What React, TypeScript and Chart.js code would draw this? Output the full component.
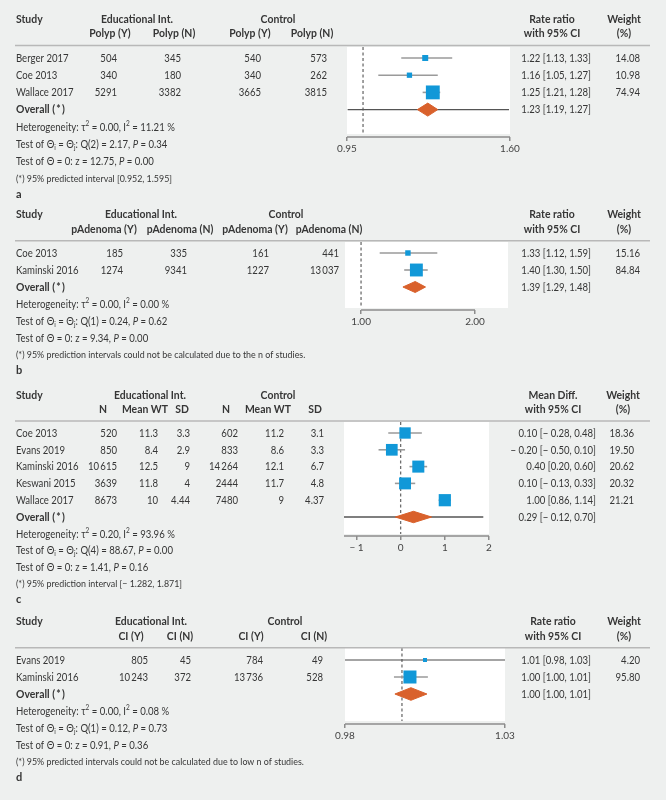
import React, { useEffect, useRef } from 'react';
import { Chart, registerables } from 'chart.js';

Chart.register(...registerables);

const FONT = 'Lato, "Liberation Sans", "DejaVu Sans", sans-serif';
const TEXT = '#363636';
const BLUE = '#1198d8';
const ORANGE = '#d9612c';
const BG = '#eef0ef';

// ---------------- Panel a ----------------
const aStudies = ['Berger 2017', 'Coe 2013', 'Wallace 2017'];
const aGroupHeaders = ['Educational Int.', 'Control'];
const aSubHeaders = ['Polyp (Y)', 'Polyp (N)', 'Polyp (Y)', 'Polyp (N)'];
const aEduPolypY = [504, 340, 5291];
const aEduPolypN = [345, 180, 3382];
const aCtlPolypY = [540, 340, 3665];
const aCtlPolypN = [573, 262, 3815];
const aEst = [1.22, 1.16, 1.25];
const aLow = [1.13, 1.05, 1.21];
const aHigh = [1.33, 1.27, 1.28];
const aWeight = [14.08, 10.98, 74.94];
const aCiText = ['1.22 [1.13, 1.33]', '1.16 [1.05, 1.27]', '1.25 [1.21, 1.28]'];
const aOverall = [1.23, 1.19, 1.27];
const aOverallText = '1.23 [1.19, 1.27]';
const aPredInt = [0.952, 1.595];
const aTickValues = [0.95, 1.6];
const aTickLabels = ['0.95', '1.60'];
const aAxisRange = [0.95, 1.6];
const aStats = [
  'Heterogeneity: τ^{2} = 0.00, I^{2} = 11.21 %',
  'Test of Θ_{i} = Θ_{j}: Q(2) = 2.17, *P* = 0.34',
  'Test of Θ = 0: z = 12.75, *P* = 0.00',
];
const aFootnote = '(*) 95% predicted interval [0.952, 1.595]';

// ---------------- Panel b ----------------
const bStudies = ['Coe 2013', 'Kaminski 2016'];
const bGroupHeaders = ['Educational Int.', 'Control'];
const bSubHeaders = ['pAdenoma (Y)', 'pAdenoma (N)', 'pAdenoma (Y)', 'pAdenoma (N)'];
const bEduY = [185, 1274];
const bEduN = [335, 9341];
const bCtlY = [161, 1227];
const bCtlN = [441, 13037];
const bEst = [1.33, 1.40];
const bLow = [1.12, 1.30];
const bHigh = [1.59, 1.50];
const bWeight = [15.16, 84.84];
const bCiText = ['1.33 [1.12, 1.59]', '1.40 [1.30, 1.50]'];
const bOverall = [1.39, 1.29, 1.48];
const bOverallText = '1.39 [1.29, 1.48]';
const bTickValues = [1, 2];
const bTickLabels = ['1.00', '2.00'];
const bAxisRange = [1, 2];
const bStats = [
  'Heterogeneity: τ^{2} = 0.00, I^{2} = 0.00 %',
  'Test of Θ_{i} = Θ_{j}: Q(1) = 0.24, *P* = 0.62',
  'Test of Θ = 0: z = 9.34, *P* = 0.00',
];
const bFootnote = '(*) 95% prediction intervals could not be calculated due to the n of studies.';

// ---------------- Panel c ----------------
const cStudies = ['Coe 2013', 'Evans 2019', 'Kaminski 2016', 'Keswani 2015', 'Wallace 2017'];
const cGroupHeaders = ['Educational Int.', 'Control'];
const cSubHeaders = ['N', 'Mean WT', 'SD', 'N', 'Mean WT', 'SD'];
const cEduN = [520, 850, 10615, 3639, 8673];
const cEduMean = [11.3, 8.4, 12.5, 11.8, 10];
const cEduSD = [3.3, 2.9, 9, 4, 4.44];
const cCtlN = [602, 833, 14264, 2444, 7480];
const cCtlMean = [11.2, 8.6, 12.1, 11.7, 9];
const cCtlSD = [3.1, 3.3, 6.7, 4.8, 4.37];
const cEst = [0.10, -0.20, 0.40, 0.10, 1.00];
const cLow = [-0.28, -0.50, 0.20, -0.13, 0.86];
const cHigh = [0.48, 0.10, 0.60, 0.33, 1.14];
const cWeight = [18.36, 19.50, 20.62, 20.32, 21.21];
const cCiText = [
  '0.10 [− 0.28, 0.48]',
  '− 0.20 [− 0.50, 0.10]',
  '0.40 [0.20, 0.60]',
  '0.10 [− 0.13, 0.33]',
  '1.00 [0.86, 1.14]',
];
const cOverall = [0.29, -0.12, 0.70];
const cOverallText = '0.29 [− 0.12, 0.70]';
const cPredInt = [-1.282, 1.871];
const cTickValues = [-1, 0, 1, 2];
const cTickLabels = ['− 1', '0', '1', '2'];
const cAxisRange = [-1.282, 2];
const cStats = [
  'Heterogeneity: τ^{2} = 0.20, I^{2} = 93.96 %',
  'Test of Θ_{i} = Θ_{j}: Q(4) = 88.67, *P* = 0.00',
  'Test of Θ = 0: z = 1.41, *P* = 0.16',
];
const cFootnote = '(*) 95% prediction interval [− 1.282, 1.871]';

// ---------------- Panel d ----------------
const dStudies = ['Evans 2019', 'Kaminski 2016'];
const dGroupHeaders = ['Educational Int.', 'Control'];
const dSubHeaders = ['CI (Y)', 'CI (N)', 'CI (Y)', 'CI (N)'];
const dEduY = [805, 10243];
const dEduN = [45, 372];
const dCtlY = [784, 13736];
const dCtlN = [49, 528];
const dEst = [1.005, 1.0003];
const dLow = [0.98, 0.9953];
const dHigh = [1.03, 1.0059];
const dWeight = [4.2, 95.8];
const dCiText = ['1.01 [0.98, 1.03]', '1.00 [1.00, 1.01]'];
const dOverall = [1.0006, 0.9956, 1.0056];
const dOverallText = '1.00 [1.00, 1.01]';
const dRefLine = 0.9978;
const dTickValues = [0.98, 1.03];
const dTickLabels = ['0.98', '1.03'];
const dAxisRange = [0.98, 1.03];
const dStats = [
  'Heterogeneity: τ^{2} = 0.00, I^{2} = 0.08 %',
  'Test of Θ_{i} = Θ_{j}: Q(1) = 0.12, *P* = 0.73',
  'Test of Θ = 0: z = 0.91, *P* = 0.36',
];
const dFootnote = '(*) 95% predicted intervals could not be calculated due to low n of studies.';

type PanelDef = {
  canvasTop: number; canvasH: number; row0: number; rowH: number;
  boxTop: number; boxBottom: number; axisY: number; boxLeft: number; boxRight: number;
  xType: 'linear' | 'logarithmic'; xMin: number; xMax: number;
  tickVals: number[]; tickLabels: string[]; axisRange: number[]; nullV: number;
  studies: string[]; cols: number[][];
  groupHeaders: string[]; groupX: number[]; subHeaders: string[]; subX: number[]; colRight: number[];
  est: number[]; lo: number[]; hi: number[]; weights: number[]; ciText: string[];
  overall: number[]; overallText: string; pi?: number[];
  statHead: string[]; statX: number; ciRight: number; wRight: number; wHeadX: number;
  stats: string[]; footnote: string; letter: string; sizeK: number; diamondHalf: number;
};

const PANELS: PanelDef[] = [
  {
    canvasTop: 0, canvasH: 198, row0: 58, rowH: 17.2, boxTop: 47, boxBottom: 134, axisY: 137, boxLeft: 347, boxRight: 510,
    xType: 'logarithmic', xMin: 0.95, xMax: 1.6, tickVals: aTickValues, tickLabels: aTickLabels, axisRange: aAxisRange, nullV: 1,
    studies: aStudies, cols: [aEduPolypY, aEduPolypN, aCtlPolypY, aCtlPolypN],
    groupHeaders: aGroupHeaders, groupX: [137, 278], subHeaders: aSubHeaders, subX: [110, 174, 250, 312], colRight: [117, 181, 261, 327],
    est: aEst, lo: aLow, hi: aHigh, weights: aWeight, ciText: aCiText, overall: aOverall, overallText: aOverallText, pi: aPredInt,
    statHead: ['Rate ratio', 'with 95% CI'], statX: 552, ciRight: 591, wRight: 640, wHeadX: 624,
    stats: aStats, footnote: aFootnote, letter: 'a', sizeK: 1.6, diamondHalf: 6.5,
  },
  {
    canvasTop: 198, canvasH: 190, row0: 253, rowH: 17, boxTop: 242, boxBottom: 308, axisY: 310, boxLeft: 345, boxRight: 508,
    xType: 'logarithmic', xMin: 0.907, xMax: 2.444, tickVals: bTickValues, tickLabels: bTickLabels, axisRange: bAxisRange, nullV: 1,
    studies: bStudies, cols: [bEduY, bEduN, bCtlY, bCtlN],
    groupHeaders: bGroupHeaders, groupX: [141, 286], subHeaders: bSubHeaders, subX: [104, 180, 255, 329], colRight: [123, 187, 269, 339],
    est: bEst, lo: bLow, hi: bHigh, weights: bWeight, ciText: bCiText, overall: bOverall, overallText: bOverallText,
    statHead: ['Rate ratio', 'with 95% CI'], statX: 552, ciRight: 591, wRight: 640, wHeadX: 624,
    stats: bStats, footnote: bFootnote, letter: 'b', sizeK: 1.4, diamondHalf: 5.5,
  },
  {
    canvasTop: 388, canvasH: 218, row0: 433, rowH: 16.8, boxTop: 422, boxBottom: 534, axisY: 536, boxLeft: 344, boxRight: 489,
    xType: 'linear', xMin: -1.282, xMax: 2, tickVals: cTickValues, tickLabels: cTickLabels, axisRange: cAxisRange, nullV: 0,
    studies: cStudies, cols: [cEduN, cEduMean, cEduSD, cCtlN, cCtlMean, cCtlSD],
    groupHeaders: cGroupHeaders, groupX: [150, 278], subHeaders: cSubHeaders, subX: [103, 145, 182, 226, 268, 315], colRight: [117, 158, 190, 238, 284, 324],
    est: cEst, lo: cLow, hi: cHigh, weights: cWeight, ciText: cCiText, overall: cOverall, overallText: cOverallText, pi: cPredInt,
    statHead: ['Mean Diff.', 'with 95% CI'], statX: 553, ciRight: 596, wRight: 634, wHeadX: 623,
    stats: cStats, footnote: cFootnote, letter: 'c', sizeK: 2.65, diamondHalf: 5.7,
  },
  {
    canvasTop: 606, canvasH: 194, row0: 660, rowH: 17, boxTop: 648, boxBottom: 721, axisY: 724, boxLeft: 345, boxRight: 505,
    xType: 'linear', xMin: 0.98, xMax: 1.03, tickVals: dTickValues, tickLabels: dTickLabels, axisRange: dAxisRange, nullV: dRefLine,
    studies: dStudies, cols: [dEduY, dEduN, dCtlY, dCtlN],
    groupHeaders: dGroupHeaders, groupX: [151, 285], subHeaders: dSubHeaders, subX: [131, 180, 251, 314], colRight: [148, 191, 263, 323],
    est: dEst, lo: dLow, hi: dHigh, weights: dWeight, ciText: dCiText, overall: dOverall, overallText: dOverallText,
    statHead: ['Rate ratio', 'with 95% CI'], statX: 553, ciRight: 591, wRight: 640, wHeadX: 624,
    stats: dStats, footnote: dFootnote, letter: 'd', sizeK: 1.33, diamondHalf: 6.3,
  },
];

const AX_H = 24;
const NORMAL_SIZE = 11.5;
const BOLD_SIZE = 11;
const FOOT_SIZE = 10;
const H1 = -2.24;
const H2 = -1.41;
const RULE = -0.72;

function fmtN(n: number): string {
  if (Number.isInteger(n) && n >= 10000) {
    const th = Math.floor(n / 1000);
    const rest = String(n % 1000).padStart(3, '0');
    return th + '\u2009' + rest;
  }
  return String(n);
}

// Condensed text: the reference uses a narrow face, so text is compressed horizontally.
function txt(ctx: CanvasRenderingContext2D, s: string, x: number, y: number, align: CanvasTextAlign, sx: number) {
  ctx.save();
  ctx.translate(x, y);
  ctx.scale(sx, 1);
  ctx.textAlign = align;
  ctx.fillText(s, 0, 0);
  ctx.restore();
}

function fitScale(ctx: CanvasRenderingContext2D, font: string, sample: string, target: number) {
  ctx.font = font;
  const w = ctx.measureText(sample).width;
  return w > 0 ? Math.min(1, target / w) : 1;
}

function drawRich(ctx: CanvasRenderingContext2D, text: string, x: number, y: number, size: number, sx: number) {
  const parts = text.split(/(\^\{[^}]*\}|_\{[^}]*\}|\*[^*]+\*)/g).filter((p) => p.length > 0);
  ctx.save();
  ctx.translate(x, y);
  ctx.scale(sx, 1);
  ctx.textAlign = 'left';
  let cx = 0;
  for (const p of parts) {
    let t = p;
    let font = `${size}px ${FONT}`;
    let dy = 0;
    if (p.startsWith('^{')) {
      t = p.slice(2, -1);
      font = `${size * 0.68}px ${FONT}`;
      dy = -size * 0.32;
    } else if (p.startsWith('_{')) {
      t = p.slice(2, -1);
      font = `${size * 0.68}px ${FONT}`;
      dy = size * 0.28;
    } else if (p.length > 2 && p.startsWith('*') && p.endsWith('*')) {
      t = p.slice(1, -1);
      font = `italic ${size}px ${FONT}`;
    }
    ctx.font = font;
    ctx.fillText(t, cx, dy);
    cx += ctx.measureText(t).width;
  }
  ctx.restore();
}

function Panel({ def }: { def: PanelDef }) {
  const ref = useRef<HTMLCanvasElement | null>(null);
  useEffect(() => {
    const d = def;
    const canvas = ref.current;
    if (!canvas) return;
    const n = d.studies.length;
    const yMin = -(d.row0 - d.boxTop) / d.rowH;
    const yMax = (d.axisY - d.row0) / d.rowH;
    const yBoxBottom = (d.boxBottom - d.row0) / d.rowH;
    const hr = d.diamondHalf / d.rowH;

    const datasets: any[] = [];
    datasets.push({
      label: 'null',
      data: [{ x: d.nullV, y: yMin }, { x: d.nullV, y: yBoxBottom }],
      showLine: true, borderColor: '#6e6e6e', borderWidth: 1.3, borderDash: [3, 2.5], pointRadius: 0, order: 10,
    });
    if (d.pi) {
      datasets.push({
        label: 'pi',
        data: [{ x: d.pi[0], y: n }, { x: d.pi[1], y: n }],
        showLine: true, borderColor: '#555555', borderWidth: 1.3, pointRadius: 0, order: 6,
      });
    }
    d.studies.forEach((s, i) => {
      const full = d.lo[i] <= d.xMin && d.hi[i] >= d.xMax;
      datasets.push({
        label: 'ci ' + s,
        data: [{ x: d.lo[i], y: i }, { x: d.hi[i], y: i }],
        showLine: true,
        borderColor: full ? '#4a4a4a' : '#9a9a9a',
        borderWidth: full ? 1.1 : 1.6,
        pointRadius: 0, order: 5,
      });
    });
    datasets.push({
      label: 'estimates',
      data: d.est.map((v, i) => ({ x: v, y: i })),
      pointStyle: 'rect',
      pointRadius: d.weights.map((w) => Math.max(4, d.sizeK * Math.sqrt(w)) / Math.SQRT2),
      backgroundColor: BLUE, borderColor: BLUE, borderWidth: 0, order: 1,
    });
    datasets.push({
      label: 'overall',
      data: [
        { x: d.overall[1], y: n },
        { x: d.overall[0], y: n - hr },
        { x: d.overall[2], y: n },
        { x: d.overall[0], y: n + hr },
        { x: d.overall[1], y: n },
      ],
      showLine: true, fill: 'shape', backgroundColor: ORANGE, borderColor: ORANGE, borderWidth: 1,
      pointRadius: 0, tension: 0, order: 0,
    });

    const decor = {
      id: 'decor' + d.letter,
      beforeDraw(chart: any) {
        const ctx = chart.ctx;
        const ca = chart.chartArea;
        ctx.save();
        ctx.fillStyle = '#ffffff';
        ctx.fillRect(ca.left, d.boxTop - d.canvasTop, ca.right - ca.left, d.boxBottom - d.boxTop);
        ctx.restore();
      },
      afterDraw(chart: any) {
        const ctx: CanvasRenderingContext2D = chart.ctx;
        const ys = chart.scales.y;
        const xs = chart.scales.x;
        const Y = (r: number) => ys.getPixelForValue(r);
        const normal = `${NORMAL_SIZE}px ${FONT}`;
        const bold = `bold ${BOLD_SIZE}px ${FONT}`;
        const foot = `${FOOT_SIZE}px ${FONT}`;
        const sxN = fitScale(ctx, normal, 'Kaminski 2016', 62.5);
        const sxB = fitScale(ctx, bold, 'Educational Int.', 72);
        const sxF = fitScale(ctx, foot, '(*) 95% predicted interval [0.952, 1.595]', 156);
        ctx.save();
        // axis line
        ctx.strokeStyle = '#8c8c8c';
        ctx.lineWidth = 1.5;
        const ay = chart.chartArea.bottom;
        ctx.beginPath();
        ctx.moveTo(xs.getPixelForValue(d.axisRange[0]), ay);
        ctx.lineTo(xs.getPixelForValue(d.axisRange[1]), ay);
        ctx.stroke();
        // header rule
        ctx.strokeStyle = '#b8b8b8';
        ctx.lineWidth = 1.5;
        ctx.beginPath();
        ctx.moveTo(15, Y(RULE));
        ctx.lineTo(650, Y(RULE));
        ctx.stroke();

        ctx.fillStyle = TEXT;
        ctx.textBaseline = 'middle';
        ctx.font = bold;
        txt(ctx, 'Study', 16, Y(H1), 'left', sxB);
        d.groupHeaders.forEach((g, i) => txt(ctx, g, d.groupX[i], Y(H1), 'center', sxB));
        d.subHeaders.forEach((s, i) => txt(ctx, s, d.subX[i], Y(H2), 'center', sxB));
        txt(ctx, d.statHead[0], d.statX, Y(H1), 'center', sxB);
        txt(ctx, d.statHead[1], d.statX, Y(H2), 'center', sxB);
        txt(ctx, 'Weight', d.wHeadX, Y(H1), 'center', sxB);
        txt(ctx, '(%)', d.wHeadX, Y(H2), 'center', sxB);

        ctx.font = normal;
        d.studies.forEach((s, i) => {
          txt(ctx, s, 16, Y(i), 'left', sxN);
          d.cols.forEach((col, j) => txt(ctx, fmtN(col[i]), d.colRight[j], Y(i), 'right', sxN));
          txt(ctx, d.ciText[i], d.ciRight, Y(i), 'right', sxN);
          txt(ctx, d.weights[i].toFixed(2), d.wRight, Y(i), 'right', sxN);
        });
        ctx.font = bold;
        txt(ctx, 'Overall (\u2009*\u2009)', 16, Y(n), 'left', sxB);
        ctx.font = normal;
        txt(ctx, d.overallText, d.ciRight, Y(n), 'right', sxN);

        d.stats.forEach((s, k) => drawRich(ctx, s, 16, Y(n + 1 + k), NORMAL_SIZE, sxN));
        ctx.font = foot;
        txt(ctx, d.footnote, 16, Y(n + 4), 'left', sxF);
        ctx.font = bold;
        txt(ctx, d.letter, 16, Y(n + 4.92), 'left', 1);
        ctx.restore();
      },
    };

    const chart = new Chart(canvas, {
      type: 'scatter',
      data: { datasets },
      options: {
        animation: false,
        responsive: false,
        devicePixelRatio: 1,
        events: [],
        layout: {
          padding: {
            left: d.boxLeft,
            right: 666 - d.boxRight,
            top: d.boxTop - d.canvasTop,
            bottom: d.canvasTop + d.canvasH - d.axisY - AX_H,
          },
        },
        plugins: { legend: { display: false }, tooltip: { enabled: false }, title: { display: false } },
        scales: {
          x: {
            type: d.xType,
            position: 'bottom',
            min: d.xMin,
            max: d.xMax,
            border: { display: false },
            grid: { display: true, drawOnChartArea: false, drawTicks: true, tickLength: 4, color: '#8c8c8c', lineWidth: 1.5 },
            ticks: {
              autoSkip: false,
              maxRotation: 0,
              padding: 2,
              color: '#444444',
              font: { family: FONT, size: 10 },
              callback: (_v: any, i: number) => d.tickLabels[i],
            },
            afterBuildTicks: (scale: any) => {
              scale.ticks = d.tickVals.map((v) => ({ value: v }));
            },
            afterFit: (scale: any) => {
              scale.height = AX_H;
            },
          },
          y: { type: 'linear', display: false, min: yMin, max: yMax, reverse: true },
        },
      },
      plugins: [decor],
    } as any);
    return () => chart.destroy();
  }, [def]);
  return (
    <canvas
      ref={ref}
      width={666}
      height={def.canvasH}
      style={{ position: 'absolute', left: 0, top: def.canvasTop, width: 666, height: def.canvasH }}
    />
  );
}

export default function App() {
  useEffect(() => {
    document.body.style.margin = '0';
    document.body.style.background = BG;
  }, []);
  return (
    <div style={{ position: 'relative', width: 666, height: 800, background: BG, overflow: 'hidden' }}>
      {PANELS.map((p) => (
        <Panel key={p.letter} def={p} />
      ))}
    </div>
  );
}
